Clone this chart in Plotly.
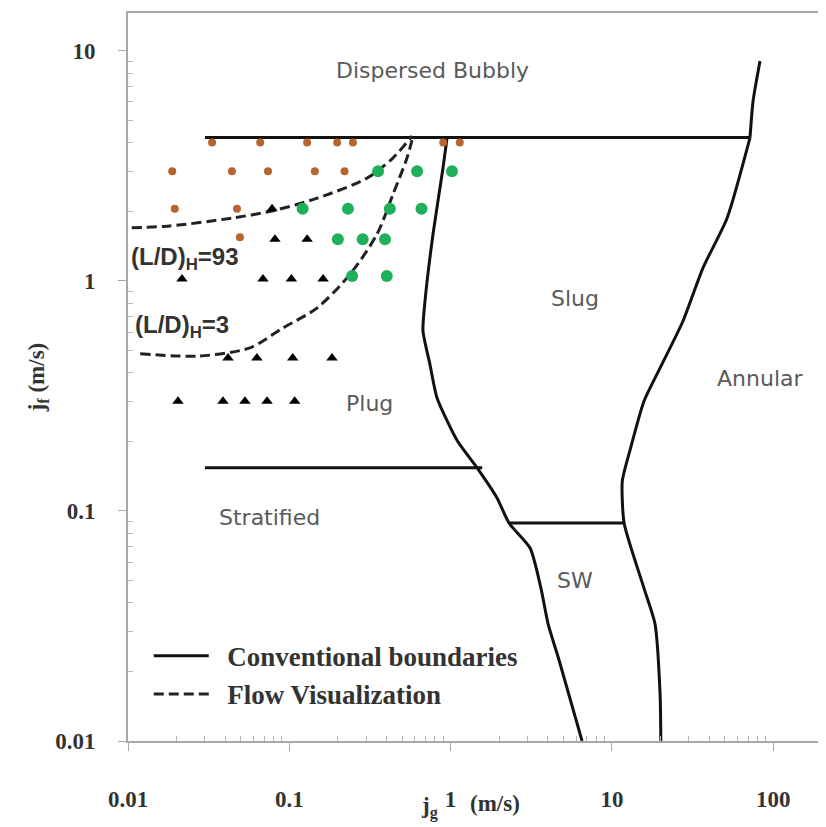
import math
import plotly.graph_objects as go

# ---- data ----
# conventional boundaries
bubbly_x = [0.03, 71.8]
bubbly_y = [4.2, 4.2]
annular_top_x = [71.8, 75, 82.8]
annular_top_y = [4.2, 6.06, 9.05]
annular_x = [71.8, 51.8, 36.7, 27.6, 19.9, 15.8, 12.9, 11.6, 11.9, 15.8, 18.5, 19.9, 20.1]
annular_y = [4.2, 1.88, 1.14, 0.67, 0.419, 0.30, 0.182, 0.135, 0.0887, 0.0462, 0.0323, 0.0158, 0.01]
slug_x = [0.951, 0.897, 0.778, 0.694, 0.674, 0.744, 0.824, 1.10, 1.46, 1.94, 2.30, 3.11, 3.63, 4.02, 4.70, 6.53]
slug_y = [4.2, 3.10, 1.60, 0.819, 0.607, 0.435, 0.310, 0.202, 0.154, 0.114, 0.0887, 0.069, 0.0462, 0.0323, 0.0225, 0.01]
strat_x = [0.03, 1.57]
strat_y = [0.154, 0.154]
sw_x = [2.30, 12.0]
sw_y = [0.0887, 0.0887]

# flow visualization boundaries
ld93_x = [0.0085, 0.0175, 0.0448, 0.0793, 0.149, 0.303, 0.440, 0.577]
ld93_y = [1.70, 1.73, 1.88, 2.02, 2.29, 2.80, 3.43, 4.27]
ld3_x = [0.0119, 0.0279, 0.057, 0.0914, 0.149, 0.238, 0.350, 0.440, 0.537, 0.585]
ld3_y = [0.482, 0.472, 0.512, 0.625, 0.764, 1.07, 1.60, 2.39, 3.43, 4.27]

# observations
orange_x = [0.0332, 0.066, 0.129, 0.198, 0.248, 0.90, 1.14,
            0.0188, 0.0441, 0.0738, 0.144, 0.22,
            0.0195, 0.0474, 0.0494]
orange_y = [4.0, 4.0, 4.0, 4.0, 4.0, 4.0, 4.0,
            3.0, 3.0, 3.0, 3.0, 3.0,
            2.06, 2.06, 1.55]
green_x = [0.355, 0.62, 1.02,
           0.121, 0.231, 0.42, 0.66,
           0.200, 0.285, 0.392,
           0.245, 0.402]
green_y = [3.0, 3.0, 3.0,
           2.06, 2.06, 2.06, 2.06,
           1.52, 1.52, 1.52,
           1.05, 1.05]
tri_x = [0.0782,
         0.0815, 0.129,
         0.0216, 0.0687, 0.103, 0.162,
         0.0417, 0.063, 0.105, 0.184,
         0.0204, 0.0388, 0.0531, 0.0728, 0.108]
tri_y = [2.06,
         1.52, 1.52,
         1.02, 1.02, 1.02, 1.02,
         0.463, 0.463, 0.463, 0.463,
         0.30, 0.30, 0.30, 0.30, 0.30]

region_labels = ["Dispersed Bubbly", "Slug", "Annular", "Plug", "Stratified", "SW"]
region_x = [0.767, 5.9, 82.8, 0.316, 0.0759, 5.9]
region_y = [8.19, 0.836, 0.375, 0.292, 0.094, 0.0497]

ld_labels = ["(L/D)<sub>H</sub>=93", "(L/D)<sub>H</sub>=3"]
ld_label_x = [0.0102, 0.0108]
ld_label_y = [1.25, 0.637]

tick_vals = [0.01, 0.1, 1, 10, 100]
tick_text = ["0.01", "0.1", "1", "10", "100"]
ytick_vals = [0.01, 0.1, 1, 10]
ytick_text = ["0.01", "0.1", "1", "10"]

minor_vals = [m * 10.0 ** d for d in range(-2, 3) for m in range(2, 10)]

SOLID = "#111111"
fig = go.Figure()

solid_sets = [(bubbly_x, bubbly_y), (annular_top_x, annular_top_y), (annular_x, annular_y),
              (slug_x, slug_y), (strat_x, strat_y), (sw_x, sw_y)]
for i, (xs, ys) in enumerate(solid_sets):
    fig.add_trace(go.Scatter(x=xs, y=ys, mode="lines",
                             line=dict(color=SOLID, width=3, shape="spline", smoothing=0.6),
                             name="&nbsp;&nbsp;Conventional boundaries", legendgroup="conv",
                             showlegend=(i == 0)))

for i, (xs, ys) in enumerate([(ld93_x, ld93_y), (ld3_x, ld3_y)]):
    fig.add_trace(go.Scatter(x=xs, y=ys, mode="lines",
                             line=dict(color="#222222", width=3, dash="10px,5px", shape="spline", smoothing=0.8),
                             name="&nbsp;&nbsp;Flow Visualization", legendgroup="vis",
                             showlegend=(i == 0)))

fig.add_trace(go.Scatter(x=orange_x, y=orange_y, mode="markers",
                         marker=dict(color="#b9642e", size=8), showlegend=False))
fig.add_trace(go.Scatter(x=green_x, y=green_y, mode="markers",
                         marker=dict(color="#1eb05a", size=12), showlegend=False))
fig.add_trace(go.Scatter(x=tri_x, y=tri_y, mode="markers",
                         marker=dict(color="#000000", size=10, symbol="triangle-up"), showlegend=False))

# annotations on log axes use log10 coordinates
for t, x, y in zip(region_labels, region_x, region_y):
    fig.add_annotation(x=math.log10(x), y=math.log10(y), xref="x", yref="y", text=t, showarrow=False,
                       font=dict(family="DejaVu Sans", size=22, color="#5a5a5a"))

for t, x, y in zip(ld_labels, ld_label_x, ld_label_y):
    fig.add_annotation(x=math.log10(x), y=math.log10(y), xref="x", yref="y", xanchor="left",
                       text=t, showarrow=False,
                       font=dict(family="Liberation Sans, Arial", size=24, color="#333333", weight="bold"))

serif = "Liberation Serif, Times New Roman, serif"
axis_common = dict(type="log", showgrid=False, zeroline=False, showline=True,
                   linecolor="#a8a8a8", linewidth=2, mirror=True,
                   ticks="outside", ticklen=8, tickcolor="#a8a8a8", tickwidth=1,
                   tickfont=dict(family=serif, size=23, color="#333333", weight="bold"))

fig.update_xaxes(range=[-2, 2.29], tickvals=tick_vals, ticktext=tick_text,
                 ticklabelstandoff=28,
                 minor=dict(tickvals=minor_vals, ticks="inside", ticklen=5, tickcolor="#b8b8b8"),
                 **axis_common)
fig.update_yaxes(range=[-2, 1.165], tickvals=ytick_vals, ticktext=ytick_text,
                 ticklabelstandoff=18,
                 minor=dict(tickvals=minor_vals, ticks="inside", ticklen=5, tickcolor="#b8b8b8"),
                 title=dict(text="j<sub>f</sub> (m/s)", standoff=4,
                            font=dict(family=serif, size=23, color="#333333", weight="bold")),
                 **axis_common)

# x-axis title, split around the "1" tick label as in the reference
title_font = dict(family=serif, size=23, color="#333333", weight="bold")
fig.add_annotation(x=0.435, y=-0.092, xref="paper", yref="paper", xanchor="center", yanchor="middle",
                   text="j<sub>g</sub>", showarrow=False, font=title_font)
fig.add_annotation(x=0.53, y=-0.086, xref="paper", yref="paper", xanchor="center", yanchor="middle",
                   text="(m/s)", showarrow=False, font=title_font)

fig.update_layout(width=826, height=827,
                  margin=dict(l=120, r=14, t=5, b=94, autoexpand=False),
                  paper_bgcolor="white", plot_bgcolor="white",
                  legend=dict(x=0.03, y=0.15, xanchor="left", yanchor="top",
                              bgcolor="rgba(0,0,0,0)", tracegroupgap=0, itemwidth=55,
                              font=dict(family=serif, size=27, color="#333333", weight="bold")))

fig.write_html("out.html")
